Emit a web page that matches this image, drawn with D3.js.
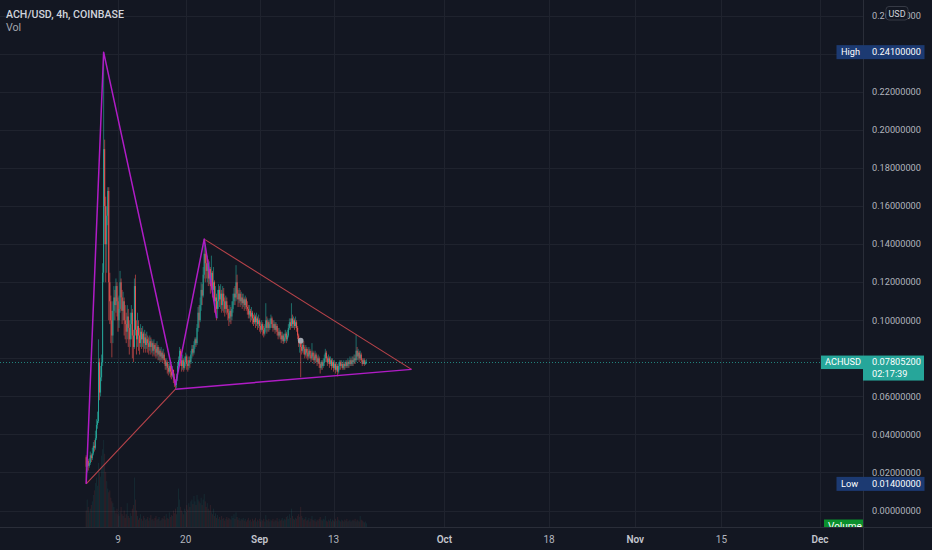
<!DOCTYPE html>
<html>
<head>
<meta charset="utf-8">
<script src="https://cdn.jsdelivr.net/npm/d3@7"></script>
<style>
  html, body { margin: 0; padding: 0; background: #131722; }
  svg { display: block; font-family: Roboto, "Noto Sans", sans-serif; }
</style>
</head>
<body>
<svg id="chart" width="932" height="550"></svg>
<script>
// ---- ACH/USD 4h bars (Coinbase) ----
const firstBarTime = "2021-08-03T20:00:00Z";
const barHours = 4;
const firstOpen = 0.0280;

const closes = [
  .0230,.0260,.0235,.0250,.0290,.0275,.0300,.0340,.0330,.0380,
  .0450,.0470,.0780,.0620,.0700,.0780,.1250,.1900,.1600,.1400,
  .1550,.1680,.1200,.1100,.1000,.0920,.1050,.1120,.1080,.1180,
  .1100,.1000,.1060,.1200,.1120,.1050,.1100,.1000,.0980,.0940,
  .1020,.0960,.0900,.0980,.1040,.0920,.0860,.1180,.0950,.0900,
  .0970,.0920,.0880,.0940,.0900,.0930,.0880,.0910,.0870,.0900,
  .0880,.0860,.0890,.0860,.0880,.0840,.0870,.0850,.0830,.0860,
  .0820,.0840,.0810,.0830,.0800,.0820,.0790,.0760,.0780,.0750,
  .0730,.0760,.0730,.0710,.0740,.0700,.0680,.0660,.0700,.0760,
  .0790,.0840,.0790,.0760,.0790,.0750,.0780,.0810,.0770,.0760,
  .0790,.0780,.0820,.0850,.0830,.0870,.0900,.0880,.0960,.1040,
  .1000,.1080,.1160,.1130,.1240,.1350,.1300,.1260,.1300,.1220,
  .1270,.1180,.1250,.1160,.1200,.1100,.1120,.1060,.1100,.1160,
  .1110,.1140,.1080,.1140,.1100,.1060,.1100,.1060,.1040,.1010,
  .1050,.1020,.1060,.1100,.1140,.1120,.1200,.1140,.1110,.1140,
  .1100,.1120,.1090,.1110,.1080,.1110,.1070,.1060,.1030,.1050,
  .1020,.1040,.1010,.0990,.1020,.0990,.1010,.0980,.1000,.0970,
  .0950,.0980,.0950,.0930,.0960,.1000,.0960,.0990,.0960,.0980,
  .1010,.0980,.0960,.0980,.0950,.0970,.0940,.0920,.0940,.0920,
  .0900,.0920,.0890,.0910,.0930,.0900,.0920,.0960,.0990,.0970,
  .1010,.0980,.1000,.0970,.0990,.0960,.0920,.0880,.0895,.0860,
  .0840,.0870,.0850,.0820,.0850,.0830,.0810,.0840,.0820,.0800,
  .0830,.0810,.0790,.0820,.0800,.0780,.0800,.0770,.0750,.0780,
  .0760,.0780,.0800,.0830,.0800,.0780,.0800,.0770,.0790,.0760,
  .0780,.0750,.0770,.0740,.0760,.0730,.0760,.0780,.0760,.0770,
  .0750,.0770,.0760,.0780,.0760,.0780,.0770,.0790,.0770,.0790,
  .0780,.0800,.0790,.0840,.0810,.0830,.0800,.0820,.0790,.0770,
  .0790,.0770,.0780,.078052
];

const highs = [
  .0290,.0280,.0270,.0275,.0310,.0300,.0330,.0360,.0370,.0420,
  .0480,.0520,.0900,.0800,.0760,.0820,.1300,.2410,.1950,.1650,
  .1600,.1700,.1700,.1250,.1130,.1050,.1100,.1180,.1160,.1220,
  .1200,.1120,.1130,.1260,.1220,.1160,.1150,.1120,.1080,.1040,
  .1080,.1060,.1000,.1040,.1080,.1060,.0950,.1220,.1240,.1000,
  .1040,.1000,.0960,.0980,.0960,.0970,.0940,.0950,.0930,.0940,
  .0920,.0910,.0920,.0910,.0900,.0890,.0900,.0880,.0880,.0890,
  .0870,.0860,.0850,.0860,.0840,.0850,.0830,.0800,.0800,.0790,
  .0770,.0780,.0770,.0750,.0760,.0740,.0720,.0690,.0720,.0780,
  .0810,.0860,.0850,.0810,.0820,.0800,.0810,.0830,.0820,.0790,
  .0810,.0810,.0840,.0870,.0870,.0890,.0910,.0910,.0980,.1070,
  .1080,.1120,.1200,.1190,.1280,.1427,.1380,.1360,.1340,.1320,
  .1310,.1280,.1340,.1260,.1280,.1210,.1180,.1140,.1160,.1190,
  .1180,.1190,.1160,.1180,.1170,.1120,.1130,.1120,.1080,.1060,
  .1080,.1070,.1100,.1140,.1170,.1180,.1290,.1240,.1160,.1170,
  .1160,.1150,.1140,.1140,.1120,.1130,.1120,.1100,.1080,.1080,
  .1060,.1070,.1050,.1030,.1040,.1030,.1040,.1020,.1030,.1010,
  .0990,.1000,.0990,.0970,.0980,.1090,.1020,.1010,.1000,.1010,
  .1030,.1020,.1000,.1000,.0990,.0990,.0980,.0960,.0960,.0950,
  .0940,.0940,.0930,.0930,.0950,.0940,.0950,.0980,.1010,.1010,
  .1090,.1030,.1020,.1010,.1020,.1000,.0970,.0930,.0900,.0900,
  .0890,.0900,.0890,.0860,.0870,.0860,.0850,.0860,.0850,.0840,
  .0880,.0840,.0830,.0840,.0830,.0810,.0820,.0810,.0780,.0790,
  .0790,.0800,.0820,.0850,.0840,.0810,.0820,.0810,.0810,.0800,
  .0800,.0790,.0790,.0780,.0780,.0770,.0780,.0790,.0790,.0790,
  .0780,.0790,.0780,.0790,.0790,.0800,.0790,.0810,.0800,.0810,
  .0810,.0820,.0820,.0925,.0860,.0850,.0840,.0840,.0830,.0800,
  .0800,.0800,.0790,.0795
];

const lows = [
  .0140,.0200,.0210,.0225,.0240,.0255,.0265,.0290,.0310,.0320,
  .0370,.0430,.0460,.0580,.0600,.0680,.0760,.1200,.1400,.1200,
  .1250,.1500,.1000,.0980,.0880,.0805,.0880,.1000,.1000,.1040,
  .1020,.0940,.0960,.1040,.1050,.0980,.1000,.0920,.0900,.0880,
  .0900,.0860,.0820,.0860,.0900,.0800,.0780,.0850,.0920,.0820,
  .0860,.0840,.0820,.0860,.0850,.0860,.0830,.0850,.0830,.0850,
  .0830,.0820,.0840,.0820,.0830,.0810,.0820,.0810,.0800,.0810,
  .0790,.0790,.0780,.0790,.0780,.0790,.0770,.0740,.0740,.0720,
  .0710,.0720,.0700,.0690,.0700,.0670,.0650,.0635,.0645,.0680,
  .0730,.0770,.0760,.0730,.0740,.0730,.0740,.0760,.0740,.0730,
  .0740,.0750,.0770,.0800,.0810,.0820,.0850,.0860,.0870,.0940,
  .0960,.0990,.1050,.1080,.1120,.1220,.1200,.1220,.1200,.1180,
  .1190,.1140,.1160,.1120,.1100,.1040,.1040,.1000,.1010,.1060,
  .1070,.1060,.1040,.1050,.1040,.1020,.1040,.1030,.1000,.0970,
  .0990,.0980,.1000,.1040,.1080,.1080,.1100,.1110,.1070,.1090,
  .1070,.1080,.1060,.1070,.1050,.1060,.1050,.1030,.1010,.1010,
  .0990,.1000,.0980,.0970,.0980,.0960,.0970,.0950,.0960,.0940,
  .0930,.0940,.0920,.0910,.0920,.0940,.0930,.0940,.0940,.0950,
  .0960,.0960,.0940,.0950,.0930,.0940,.0920,.0900,.0910,.0900,
  .0880,.0890,.0875,.0880,.0890,.0880,.0890,.0910,.0950,.0950,
  .0960,.0960,.0960,.0950,.0960,.0940,.0900,.0860,.0830,.0700,
  .0820,.0830,.0820,.0800,.0810,.0800,.0790,.0800,.0800,.0780,
  .0790,.0790,.0770,.0780,.0780,.0760,.0770,.0750,.0720,.0740,
  .0740,.0750,.0760,.0780,.0780,.0760,.0770,.0750,.0760,.0740,
  .0750,.0730,.0740,.0720,.0730,.0705,.0720,.0740,.0740,.0750,
  .0740,.0740,.0740,.0750,.0750,.0750,.0750,.0760,.0760,.0760,
  .0760,.0770,.0770,.0780,.0790,.0790,.0780,.0790,.0780,.0760,
  .0770,.0760,.0765,.0770
];

// volume per bar, millions of ACH
const volumes = [
  18,30,22,16,20,24,28,35,40,48,
  54,45,70,60,55,78,85,95,80,60,
  50,42,38,40,32,28,26,22,18,15,
  20,14,12,16,22,14,12,18,10,14,
  26,12,10,15,12,20,24,54,30,18,
  12,8,10,14,9,7,12,10,8,9,
  11,7,10,13,8,9,7,10,12,8,
  9,11,7,8,10,9,12,8,14,10,
  9,16,11,13,12,18,15,20,14,22,
  42,30,22,18,16,14,20,17,24,19,
  26,22,28,30,25,34,28,24,35,30,
  28,26,32,24,30,36,28,22,26,20,
  18,24,16,14,20,12,15,10,13,9,
  11,8,12,9,10,7,9,11,8,10,
  9,8,12,10,14,9,16,11,8,10,
  7,9,8,10,7,9,6,8,10,7,
  8,6,9,7,8,10,6,8,7,9,
  6,8,7,9,6,13,8,7,9,6,
  8,7,9,6,8,7,10,6,9,7,
  8,10,7,9,8,11,12,9,14,10,
  20,12,9,8,10,9,12,14,11,22,
  12,10,8,9,11,7,8,10,6,9,
  12,8,7,9,6,8,7,9,11,8,
  7,9,8,12,7,6,8,7,9,6,
  8,7,6,9,7,11,8,7,6,8,
  7,6,8,7,9,6,7,8,6,7,
  8,7,9,6,8,7,6,12,8,7,
  6,5,6,4
];

// ---- axes ----
const priceTicks = [0, 0.02, 0.04, 0.06, 0.08, 0.10, 0.12, 0.14, 0.16, 0.18, 0.20, 0.22, 0.24, 0.26];
const timeTicks = ["2021-08-09", "2021-08-20", "2021-09-01", "2021-09-13", "2021-10-01",
                   "2021-10-18", "2021-11-01", "2021-11-15", "2021-12-01"];
const timeTickLabels = ["9", "20", "Sep", "13", "Oct", "18", "Nov", "15", "Dec"];
const monthStart = [false, false, true, false, true, false, true, false, true];

// ---- drawings: [time, price] anchors ----
const zigzagPoints = [
  ["2021-08-03T20:00:00Z", 0.0140],
  ["2021-08-06T16:00:00Z", 0.2410],
  ["2021-08-18T08:00:00Z", 0.0660],
  ["2021-08-23T00:00:00Z", 0.1427],
  ["2021-08-25T00:00:00Z", 0.1012]
];
const launchLine = [["2021-08-03T20:00:00Z", 0.0140], ["2021-08-18T08:00:00Z", 0.0638]];
const supportLine = [["2021-08-18T08:00:00Z", 0.0638], ["2021-09-25T16:00:00Z", 0.0742]];
const resistanceLine = [["2021-08-23T00:00:00Z", 0.1427], ["2021-09-25T16:00:00Z", 0.0742]];
const markerPoint = ["2021-09-07T16:00:00Z", 0.0893];

const symbolName = "ACHUSD";
const titleText = "ACH/USD, 4h, COINBASE";
const countdown = "02:17:39";
const currency = "USD";

// ---- layout ----
const W = 932, H = 550;
const plotRight = 863, plotBottom = 527;
const colors = {
  bg: "#131722", grid: "#1f232e", border: "#2a2e39", text: "#b2b5be",
  up: "#26a69a", down: "#ef5350", zig: "#b01cc6", trend: "#b8434a",
  extreme: "#1c3a72", volLabel: "#0b8f2d"
};

const svg = d3.select("#chart");
svg.append("rect").attr("width", W).attr("height", H).attr("fill", colors.bg);

const x = d3.scaleUtc()
  .domain([new Date("2021-08-09T00:00:00Z"), new Date("2021-12-01T00:00:00Z")])
  .range([118, 820]);
const y = d3.scaleLinear().domain([0, 0.26]).range([510.5, 16]);
const yVol = d3.scaleLinear().domain([0, d3.max(volumes)]).range([plotBottom, 440]);
const fmt = d3.format(".8f");

const t0 = new Date(firstBarTime).getTime();
const bars = closes.map((c, i) => {
  const o = i ? closes[i - 1] : firstOpen;
  return {
    t: new Date(t0 + i * barHours * 3600e3),
    o, c,
    h: Math.max(highs[i], o, c),
    l: Math.min(lows[i], o, c),
    v: volumes[i]
  };
});
const last = bars[bars.length - 1];
const hiVal = d3.max(bars, d => d.h);
const loVal = d3.min(bars, d => d.l);

svg.append("defs").append("clipPath").attr("id", "plotClip")
  .append("rect").attr("x", 0).attr("y", 0).attr("width", plotRight).attr("height", plotBottom);

const plot = svg.append("g").attr("clip-path", "url(#plotClip)");

// grid
plot.append("g").selectAll("line").data(priceTicks).join("line")
  .attr("x1", 0).attr("x2", plotRight)
  .attr("y1", d => Math.round(y(d)) + 0.5).attr("y2", d => Math.round(y(d)) + 0.5)
  .attr("stroke", colors.grid);
plot.append("g").selectAll("line").data(timeTicks).join("line")
  .attr("x1", d => Math.round(x(new Date(d + "T00:00:00Z"))) + 0.5)
  .attr("x2", d => Math.round(x(new Date(d + "T00:00:00Z"))) + 0.5)
  .attr("y1", 0).attr("y2", plotBottom)
  .attr("stroke", colors.grid);

// volume
plot.append("g").selectAll("rect").data(bars).join("rect")
  .attr("x", d => x(d.t) - 0.5).attr("width", 1)
  .attr("y", d => yVol(d.v)).attr("height", d => plotBottom - yVol(d.v))
  .attr("fill", d => d.c >= d.o ? colors.up : colors.down)
  .attr("opacity", 0.13);

// last price line
plot.append("line")
  .attr("x1", 0).attr("x2", plotRight)
  .attr("y1", Math.round(y(last.c)) + 0.5).attr("y2", Math.round(y(last.c)) + 0.5)
  .attr("stroke", colors.up).attr("stroke-dasharray", "1,2").attr("opacity", 0.75);

// candles
const candles = plot.append("g");
candles.selectAll("rect.wick").data(bars).join("rect").attr("class", "wick")
  .attr("x", d => x(d.t) - 0.5).attr("width", 1)
  .attr("y", d => y(d.h)).attr("height", d => Math.max(0.8, y(d.l) - y(d.h)))
  .attr("fill", d => d.c >= d.o ? colors.up : colors.down)
  .attr("opacity", 0.6);
candles.selectAll("rect.body").data(bars).join("rect").attr("class", "body")
  .attr("x", d => x(d.t) - 0.5).attr("width", 1)
  .attr("y", d => y(Math.max(d.o, d.c)))
  .attr("height", d => Math.max(1, Math.abs(y(d.o) - y(d.c))))
  .attr("fill", d => d.c >= d.o ? colors.up : colors.down)
  .attr("opacity", 0.95);

// drawings
const line = d3.line().x(d => x(new Date(d[0]))).y(d => y(d[1]));
plot.append("path").datum(launchLine).attr("d", line)
  .attr("fill", "none").attr("stroke", colors.trend).attr("stroke-width", 1.1);
plot.append("path").datum(resistanceLine).attr("d", line)
  .attr("fill", "none").attr("stroke", colors.trend).attr("stroke-width", 1.1);
plot.append("path").datum(supportLine).attr("d", line)
  .attr("fill", "none").attr("stroke", colors.zig).attr("stroke-width", 1.5);
plot.append("path").datum(zigzagPoints).attr("d", line)
  .attr("fill", "none").attr("stroke", colors.zig).attr("stroke-width", 1.5)
  .attr("stroke-linejoin", "round");
plot.append("circle")
  .attr("cx", x(new Date(markerPoint[0]))).attr("cy", y(markerPoint[1]))
  .attr("r", 2.8).attr("fill", "#a3a6af");

// title
svg.append("text").attr("x", 6).attr("y", 18)
  .attr("font-size", 10.6).attr("font-weight", 500).attr("fill", "#d1d4dc")
  .text(titleText);
svg.append("text").attr("x", 6).attr("y", 30.5)
  .attr("font-size", 10.6).attr("fill", "#a3a6af")
  .text("Vol");

// volume pane tag
const volTag = svg.append("g").attr("clip-path", "url(#plotClip)");
volTag.append("rect").attr("x", 824).attr("y", 519.5).attr("width", plotRight - 824).attr("height", 14)
  .attr("fill", colors.volLabel);
volTag.append("text").attr("x", 828).attr("y", 530).attr("font-size", 10).attr("fill", "#fff").text("Volume");

// frame lines
svg.append("line").attr("x1", plotRight + 0.5).attr("x2", plotRight + 0.5).attr("y1", 0).attr("y2", H)
  .attr("stroke", colors.border);
svg.append("line").attr("x1", 0).attr("x2", W).attr("y1", plotBottom + 0.5).attr("y2", plotBottom + 0.5)
  .attr("stroke", colors.border);

// price axis labels (a label hidden behind a price tag is skipped)
const tagPrices = [hiVal, loVal, last.c];
const visibleTicks = priceTicks.filter(p => tagPrices.every(t => Math.abs(y(p) - y(t)) > 6));
svg.append("g").selectAll("text").data(visibleTicks).join("text")
  .attr("x", 872).attr("y", d => y(d)).attr("dy", "0.35em")
  .attr("font-size", 9.2).attr("fill", colors.text)
  .text(d => fmt(d));

// time axis labels
svg.append("g").selectAll("text").data(timeTicks).join("text")
  .attr("x", d => x(new Date(d + "T00:00:00Z"))).attr("y", 539).attr("dy", "0.35em")
  .attr("text-anchor", "middle").attr("font-size", 10)
  .attr("font-weight", (d, i) => monthStart[i] ? 600 : 400)
  .attr("fill", (d, i) => monthStart[i] ? "#c3c6ce" : colors.text)
  .text((d, i) => timeTickLabels[i]);

// currency badge
svg.append("rect").attr("x", 886).attr("y", 6.5).attr("width", 22).attr("height", 13.5).attr("rx", 3)
  .attr("fill", colors.bg).attr("stroke", "#363a45");
svg.append("text").attr("x", 897).attr("y", 13.5).attr("dy", "0.35em").attr("text-anchor", "middle")
  .attr("font-size", 9).attr("fill", "#d1d4dc").text(currency);

// high / low tags
function extremeTag(label, value) {
  const cy = y(value);
  svg.append("rect").attr("x", 836.5).attr("y", cy - 7).attr("width", 88).attr("height", 14)
    .attr("fill", colors.extreme);
  svg.append("text").attr("x", 841).attr("y", cy).attr("dy", "0.35em")
    .attr("font-size", 9.2).attr("fill", "#fff").text(label);
  svg.append("text").attr("x", 872).attr("y", cy).attr("dy", "0.35em")
    .attr("font-size", 9.2).attr("fill", "#fff").text(fmt(value));
}
extremeTag("High", hiVal);
extremeTag("Low", loVal);

// last price tag
const ly = y(last.c);
svg.append("rect").attr("x", 821).attr("y", ly - 6.5).attr("width", plotRight - 821).attr("height", 13.5)
  .attr("fill", colors.up);
svg.append("rect").attr("x", plotRight).attr("y", ly - 6.5).attr("width", 924 - plotRight).attr("height", 25)
  .attr("fill", colors.up);
svg.append("text").attr("x", 825).attr("y", ly).attr("dy", "0.35em")
  .attr("font-size", 9.2).attr("fill", "#fff").text(symbolName);
svg.append("text").attr("x", 872).attr("y", ly).attr("dy", "0.35em")
  .attr("font-size", 9.2).attr("fill", "#fff").text(fmt(last.c));
svg.append("text").attr("x", 872).attr("y", ly + 12).attr("dy", "0.35em")
  .attr("font-size", 9.2).attr("fill", "#fff").text(countdown);
</script>
</body>
</html>
